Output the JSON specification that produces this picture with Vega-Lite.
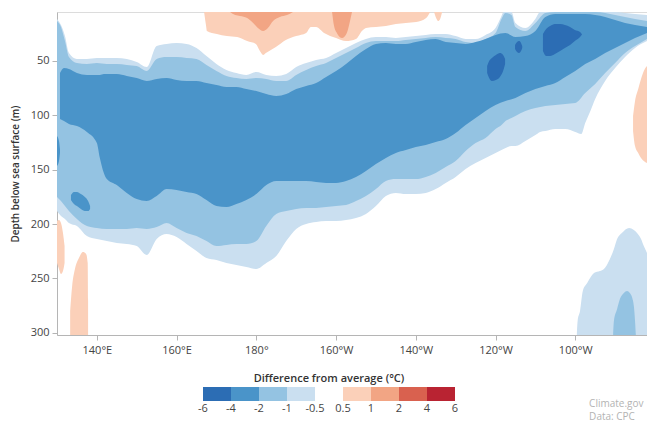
{
  "$schema": "https://vega.github.io/schema/vega-lite/v6.json",
  "padding": {"left": 9, "top": 11, "right": 0, "bottom": 0},
  "background": "white",
  "spacing": 17,
  "config": {
    "font": "Open Sans",
    "view": {"stroke": null},
    "axis": {"labelFont": "Open Sans", "titleFont": "Open Sans", "labelColor": "#444444", "titleColor": "#333333", "domainColor": "#b5b5b5", "tickColor": "#b5b5b5", "grid": false, "labelFontSize": 11, "labelFlush": false, "labelOverlap": false}
  },
  "datasets": {
    "L1": [
      {"s":"a","v":-0.75,"lon":130,"top":11.4,"bot":188.0},{"s":"a","v":-0.75,"lon":131,"top":17.0,"bot":192.6},{"s":"a","v":-0.75,"lon":132,"top":27.1,"bot":195.3},{"s":"a","v":-0.75,"lon":133,"top":42.7,"bot":199.0},{"s":"a","v":-0.75,"lon":135,"top":48.2,"bot":201.8},{"s":"a","v":-0.75,"lon":137.5,"top":48.2,"bot":211.0},{"s":"a","v":-0.75,"lon":140,"top":47.3,"bot":213.7},{"s":"a","v":-0.75,"lon":142.5,"top":47.3,"bot":215.6},{"s":"a","v":-0.75,"lon":145,"top":47.3,"bot":217.4},{"s":"a","v":-0.75,"lon":147.5,"top":48.2,"bot":218.3},{"s":"a","v":-0.75,"lon":150,"top":51.0,"bot":220.2},{"s":"a","v":-0.75,"lon":152.5,"top":55.6,"bot":228.4},{"s":"a","v":-0.75,"lon":155,"top":36.3,"bot":213.7},{"s":"a","v":-0.75,"lon":157.5,"top":34.4,"bot":209.1},{"s":"a","v":-0.75,"lon":160,"top":33.5,"bot":211.9},{"s":"a","v":-0.75,"lon":162.5,"top":34.4,"bot":218.3},{"s":"a","v":-0.75,"lon":165,"top":38.1,"bot":224.8},{"s":"a","v":-0.75,"lon":167.5,"top":45.5,"bot":231.2},{"s":"a","v":-0.75,"lon":170,"top":52.8,"bot":233.0},{"s":"a","v":-0.75,"lon":172.5,"top":58.3,"bot":235.8},{"s":"a","v":-0.75,"lon":175,"top":61.1,"bot":237.6},{"s":"a","v":-0.75,"lon":177.5,"top":62.9,"bot":239.5},{"s":"a","v":-0.75,"lon":180,"top":60.2,"bot":241.3},{"s":"a","v":-0.75,"lon":182.5,"top":62.9,"bot":235.8},{"s":"a","v":-0.75,"lon":185,"top":63.8,"bot":229.4},{"s":"a","v":-0.75,"lon":187.5,"top":62.0,"bot":215.6},{"s":"a","v":-0.75,"lon":190,"top":55.6,"bot":204.5},{"s":"a","v":-0.75,"lon":192.5,"top":51.9,"bot":199.9},{"s":"a","v":-0.75,"lon":195,"top":49.1,"bot":198.1},{"s":"a","v":-0.75,"lon":197.5,"top":47.3,"bot":197.2},{"s":"a","v":-0.75,"lon":200,"top":42.7,"bot":197.2},{"s":"a","v":-0.75,"lon":202.5,"top":38.1,"bot":196.3},{"s":"a","v":-0.75,"lon":205,"top":33.5,"bot":194.4},{"s":"a","v":-0.75,"lon":207.5,"top":29.8,"bot":190.7},{"s":"a","v":-0.75,"lon":210,"top":28.0,"bot":183.4},{"s":"a","v":-0.75,"lon":212.5,"top":28.0,"bot":174.2},{"s":"a","v":-0.75,"lon":215,"top":28.9,"bot":171.4},{"s":"a","v":-0.75,"lon":217.5,"top":28.0,"bot":172.4},{"s":"a","v":-0.75,"lon":220,"top":27.1,"bot":172.4},{"s":"a","v":-0.75,"lon":222.5,"top":26.1,"bot":171.4},{"s":"a","v":-0.75,"lon":225,"top":25.2,"bot":167.8},{"s":"a","v":-0.75,"lon":227.5,"top":25.2,"bot":162.2},{"s":"a","v":-0.75,"lon":230,"top":27.1,"bot":156.7},{"s":"a","v":-0.75,"lon":232.5,"top":29.8,"bot":149.4},{"s":"a","v":-0.75,"lon":235,"top":29.8,"bot":143.8},{"s":"a","v":-0.75,"lon":237.5,"top":26.1,"bot":139.2},{"s":"a","v":-0.75,"lon":240,"top":19.7,"bot":134.6},{"s":"a","v":-0.75,"lon":241.5,"top":8.7,"bot":131.9},{"s":"a","v":-0.75,"lon":242,"top":5,"bot":131.0},{"s":"a","v":-0.75,"lon":244,"top":5,"bot":128.2},{"s":"a","v":-0.75,"lon":245,"top":15.1,"bot":128.2},{"s":"a","v":-0.75,"lon":247.5,"top":19.7,"bot":123.6},{"s":"a","v":-0.75,"lon":250,"top":11.4,"bot":118.1},{"s":"a","v":-0.75,"lon":251.2,"top":5,"bot":115.3},{"s":"a","v":-0.75,"lon":252.5,"top":5,"bot":114.4},{"s":"a","v":-0.75,"lon":255,"top":5,"bot":112.6},{"s":"a","v":-0.75,"lon":257.5,"top":5,"bot":112.6},{"s":"a","v":-0.75,"lon":260,"top":5,"bot":115.3},{"s":"a","v":-0.75,"lon":261.5,"top":5,"bot":117.2},{"s":"a","v":-0.75,"lon":262.5,"top":5,"bot":107.1},{"s":"a","v":-0.75,"lon":263.8,"top":5,"bot":96.0},{"s":"a","v":-0.75,"lon":265,"top":5,"bot":85.0},{"s":"a","v":-0.75,"lon":267.5,"top":5,"bot":68.4},{"s":"a","v":-0.75,"lon":270,"top":5,"bot":56.5},{"s":"a","v":-0.75,"lon":272.5,"top":5.9,"bot":46.4},{"s":"a","v":-0.75,"lon":275,"top":6.8,"bot":38.1},{"s":"a","v":-0.75,"lon":278,"top":7.8,"bot":31.7},
      {"s":"b","v":-0.75,"lon":260.4,"top":302,"bot":302},{"s":"b","v":-0.75,"lon":260.6,"top":289.1,"bot":302},{"s":"b","v":-0.75,"lon":261.2,"top":279.9,"bot":302},{"s":"b","v":-0.75,"lon":261.9,"top":261.5,"bot":302},{"s":"b","v":-0.75,"lon":263.0,"top":254.2,"bot":302},{"s":"b","v":-0.75,"lon":264.7,"top":245.0,"bot":302},{"s":"b","v":-0.75,"lon":266.2,"top":243.2,"bot":302},{"s":"b","v":-0.75,"lon":267.2,"top":241.3,"bot":302},{"s":"b","v":-0.75,"lon":268.7,"top":232.1,"bot":302},{"s":"b","v":-0.75,"lon":269.7,"top":222.9,"bot":302},{"s":"b","v":-0.75,"lon":270.5,"top":213.7,"bot":302},{"s":"b","v":-0.75,"lon":271.7,"top":208.2,"bot":302},{"s":"b","v":-0.75,"lon":273.5,"top":203.6,"bot":302},{"s":"b","v":-0.75,"lon":274.7,"top":205.4,"bot":302},{"s":"b","v":-0.75,"lon":275.5,"top":208.2,"bot":302},{"s":"b","v":-0.75,"lon":276.5,"top":213.7,"bot":302},{"s":"b","v":-0.75,"lon":277.2,"top":220.2,"bot":302},{"s":"b","v":-0.75,"lon":278,"top":226.6,"bot":302}
    ],
    "L2": [
      {"s":"a","v":-1.5,"lon":130,"top":13.3,"bot":175.1},{"s":"a","v":-1.5,"lon":131,"top":18.8,"bot":178.8},{"s":"a","v":-1.5,"lon":132,"top":31.7,"bot":183.4},{"s":"a","v":-1.5,"lon":133,"top":46.4,"bot":188.0},{"s":"a","v":-1.5,"lon":135,"top":51.9,"bot":195.3},{"s":"a","v":-1.5,"lon":137.5,"top":52.8,"bot":201.8},{"s":"a","v":-1.5,"lon":140,"top":51.9,"bot":203.6},{"s":"a","v":-1.5,"lon":142.5,"top":52.8,"bot":204.5},{"s":"a","v":-1.5,"lon":145,"top":52.8,"bot":204.5},{"s":"a","v":-1.5,"lon":147.5,"top":53.7,"bot":204.5},{"s":"a","v":-1.5,"lon":150,"top":54.7,"bot":203.6},{"s":"a","v":-1.5,"lon":152.5,"top":59.3,"bot":204.5},{"s":"a","v":-1.5,"lon":155,"top":48.2,"bot":202.7},{"s":"a","v":-1.5,"lon":157.5,"top":46.4,"bot":199.0},{"s":"a","v":-1.5,"lon":160,"top":46.4,"bot":203.6},{"s":"a","v":-1.5,"lon":162.5,"top":47.3,"bot":208.2},{"s":"a","v":-1.5,"lon":165,"top":48.2,"bot":211.0},{"s":"a","v":-1.5,"lon":167.5,"top":53.7,"bot":215.6},{"s":"a","v":-1.5,"lon":170,"top":59.3,"bot":220.2},{"s":"a","v":-1.5,"lon":172.5,"top":63.8,"bot":219.2},{"s":"a","v":-1.5,"lon":175,"top":65.7,"bot":218.3},{"s":"a","v":-1.5,"lon":177.5,"top":66.6,"bot":218.3},{"s":"a","v":-1.5,"lon":180,"top":65.7,"bot":215.6},{"s":"a","v":-1.5,"lon":182.5,"top":66.6,"bot":201.8},{"s":"a","v":-1.5,"lon":185,"top":68.4,"bot":190.7},{"s":"a","v":-1.5,"lon":187.5,"top":68.4,"bot":188.0},{"s":"a","v":-1.5,"lon":190,"top":62.9,"bot":186.1},{"s":"a","v":-1.5,"lon":192.5,"top":58.3,"bot":185.2},{"s":"a","v":-1.5,"lon":195,"top":54.7,"bot":185.2},{"s":"a","v":-1.5,"lon":197.5,"top":51.9,"bot":184.3},{"s":"a","v":-1.5,"lon":200,"top":47.3,"bot":183.4},{"s":"a","v":-1.5,"lon":202.5,"top":42.7,"bot":182.5},{"s":"a","v":-1.5,"lon":205,"top":38.1,"bot":178.8},{"s":"a","v":-1.5,"lon":207.5,"top":33.5,"bot":174.2},{"s":"a","v":-1.5,"lon":210,"top":31.7,"bot":167.8},{"s":"a","v":-1.5,"lon":212.5,"top":31.7,"bot":160.4},{"s":"a","v":-1.5,"lon":215,"top":31.7,"bot":158.6},{"s":"a","v":-1.5,"lon":217.5,"top":30.7,"bot":158.6},{"s":"a","v":-1.5,"lon":220,"top":29.8,"bot":158.6},{"s":"a","v":-1.5,"lon":222.5,"top":28.9,"bot":156.7},{"s":"a","v":-1.5,"lon":225,"top":28.0,"bot":153.0},{"s":"a","v":-1.5,"lon":227.5,"top":28.9,"bot":147.5},{"s":"a","v":-1.5,"lon":230,"top":29.8,"bot":142.0},{"s":"a","v":-1.5,"lon":232.5,"top":32.6,"bot":132.8},{"s":"a","v":-1.5,"lon":235,"top":33.5,"bot":125.5},{"s":"a","v":-1.5,"lon":237.5,"top":29.8,"bot":120.9},{"s":"a","v":-1.5,"lon":240,"top":24.3,"bot":112.6},{"s":"a","v":-1.5,"lon":241.5,"top":11.4,"bot":108.9},{"s":"a","v":-1.5,"lon":242.5,"top":5.9,"bot":105.2},{"s":"a","v":-1.5,"lon":244,"top":7.8,"bot":102.5},{"s":"a","v":-1.5,"lon":245,"top":18.8,"bot":100.6},{"s":"a","v":-1.5,"lon":247.5,"top":22.5,"bot":96.0},{"s":"a","v":-1.5,"lon":250,"top":15.1,"bot":93.3},{"s":"a","v":-1.5,"lon":252.5,"top":5.9,"bot":91.4},{"s":"a","v":-1.5,"lon":255,"top":5,"bot":90.5},{"s":"a","v":-1.5,"lon":257.5,"top":5,"bot":89.6},{"s":"a","v":-1.5,"lon":260,"top":5,"bot":88.7},{"s":"a","v":-1.5,"lon":262.5,"top":5,"bot":79.5},{"s":"a","v":-1.5,"lon":265,"top":5,"bot":71.2},{"s":"a","v":-1.5,"lon":267.5,"top":5.9,"bot":61.1},{"s":"a","v":-1.5,"lon":270,"top":7.8,"bot":51.9},{"s":"a","v":-1.5,"lon":272.5,"top":9.6,"bot":42.7},{"s":"a","v":-1.5,"lon":275,"top":11.4,"bot":36.3},{"s":"a","v":-1.5,"lon":278,"top":13.3,"bot":29.8},
      {"s":"b","v":-1.5,"lon":269.5,"top":302,"bot":302},{"s":"b","v":-1.5,"lon":269.7,"top":289.1,"bot":302},{"s":"b","v":-1.5,"lon":270.5,"top":278.1,"bot":302},{"s":"b","v":-1.5,"lon":271.2,"top":268.9,"bot":302},{"s":"b","v":-1.5,"lon":272.2,"top":263.4,"bot":302},{"s":"b","v":-1.5,"lon":273,"top":261.5,"bot":302},{"s":"b","v":-1.5,"lon":273.7,"top":263.4,"bot":302},{"s":"b","v":-1.5,"lon":274.5,"top":270.7,"bot":302},{"s":"b","v":-1.5,"lon":274.7,"top":275.3,"bot":302},{"s":"b","v":-1.5,"lon":275,"top":289.1,"bot":302},{"s":"b","v":-1.5,"lon":275.2,"top":302,"bot":302}
    ],
    "L3": [
      {"s":"a","v":-3,"lon":130.75,"top":61.1,"bot":103.4},{"s":"a","v":-3,"lon":131.75,"top":56.5,"bot":105.2},{"s":"a","v":-3,"lon":133,"top":57.4,"bot":108.0},{"s":"a","v":-3,"lon":135,"top":61.1,"bot":109.8},{"s":"a","v":-3,"lon":137.5,"top":62.9,"bot":115.3},{"s":"a","v":-3,"lon":140,"top":62.9,"bot":125.5},{"s":"a","v":-3,"lon":140.75,"top":62.9,"bot":139.2},{"s":"a","v":-3,"lon":141.75,"top":62.0,"bot":153.0},{"s":"a","v":-3,"lon":142.5,"top":62.0,"bot":158.6},{"s":"a","v":-3,"lon":145,"top":62.0,"bot":164.1},{"s":"a","v":-3,"lon":147.5,"top":63.8,"bot":171.4},{"s":"a","v":-3,"lon":150,"top":65.7,"bot":177.0},{"s":"a","v":-3,"lon":152.5,"top":68.4,"bot":178.8},{"s":"a","v":-3,"lon":155,"top":66.6,"bot":174.2},{"s":"a","v":-3,"lon":157.5,"top":65.7,"bot":167.8},{"s":"a","v":-3,"lon":160,"top":67.5,"bot":168.7},{"s":"a","v":-3,"lon":162.5,"top":68.4,"bot":170.5},{"s":"a","v":-3,"lon":165,"top":68.4,"bot":172.4},{"s":"a","v":-3,"lon":167.5,"top":70.3,"bot":177.9},{"s":"a","v":-3,"lon":170,"top":72.1,"bot":183.4},{"s":"a","v":-3,"lon":172.5,"top":74.0,"bot":184.3},{"s":"a","v":-3,"lon":175,"top":74.0,"bot":181.5},{"s":"a","v":-3,"lon":177.5,"top":75.8,"bot":177.9},{"s":"a","v":-3,"lon":180,"top":77.6,"bot":172.4},{"s":"a","v":-3,"lon":182.5,"top":80.4,"bot":164.1},{"s":"a","v":-3,"lon":185,"top":82.2,"bot":160.4},{"s":"a","v":-3,"lon":187.5,"top":80.4,"bot":160.4},{"s":"a","v":-3,"lon":190,"top":75.8,"bot":160.4},{"s":"a","v":-3,"lon":192.5,"top":73.0,"bot":160.4},{"s":"a","v":-3,"lon":195,"top":70.3,"bot":161.3},{"s":"a","v":-3,"lon":197.5,"top":64.8,"bot":162.2},{"s":"a","v":-3,"lon":200,"top":59.3,"bot":162.2},{"s":"a","v":-3,"lon":202.5,"top":52.8,"bot":160.4},{"s":"a","v":-3,"lon":205,"top":45.5,"bot":156.7},{"s":"a","v":-3,"lon":207.5,"top":39.0,"bot":151.2},{"s":"a","v":-3,"lon":210,"top":34.4,"bot":144.8},{"s":"a","v":-3,"lon":212.5,"top":33.5,"bot":139.2},{"s":"a","v":-3,"lon":215,"top":34.4,"bot":134.6},{"s":"a","v":-3,"lon":217.5,"top":34.4,"bot":131.9},{"s":"a","v":-3,"lon":220,"top":32.6,"bot":129.1},{"s":"a","v":-3,"lon":222.5,"top":30.7,"bot":127.3},{"s":"a","v":-3,"lon":225,"top":29.8,"bot":124.5},{"s":"a","v":-3,"lon":227.5,"top":32.6,"bot":121.8},{"s":"a","v":-3,"lon":230,"top":33.5,"bot":116.3},{"s":"a","v":-3,"lon":232.5,"top":34.4,"bot":108.9},{"s":"a","v":-3,"lon":235,"top":32.6,"bot":102.5},{"s":"a","v":-3,"lon":237.5,"top":29.8,"bot":96.0},{"s":"a","v":-3,"lon":240,"top":26.1,"bot":90.5},{"s":"a","v":-3,"lon":242.5,"top":24.3,"bot":86.8},{"s":"a","v":-3,"lon":245,"top":28.0,"bot":84.1},{"s":"a","v":-3,"lon":247.5,"top":27.1,"bot":79.5},{"s":"a","v":-3,"lon":250,"top":22.5,"bot":75.8},{"s":"a","v":-3,"lon":252.5,"top":9.6,"bot":73.0},{"s":"a","v":-3,"lon":255,"top":6.8,"bot":70.3},{"s":"a","v":-3,"lon":257.5,"top":6.8,"bot":64.8},{"s":"a","v":-3,"lon":260,"top":6.8,"bot":59.3},{"s":"a","v":-3,"lon":262.5,"top":6.8,"bot":52.8},{"s":"a","v":-3,"lon":265,"top":7.8,"bot":48.2},{"s":"a","v":-3,"lon":267.5,"top":9.6,"bot":42.7},{"s":"a","v":-3,"lon":270,"top":12.4,"bot":38.1},{"s":"a","v":-3,"lon":272.5,"top":15.1,"bot":33.5},{"s":"a","v":-3,"lon":275,"top":17.0,"bot":28.9},{"s":"a","v":-3,"lon":278,"top":18.8,"bot":24.3},
      {"s":"s","v":-3,"lon":130,"top":119.0,"bot":146.6},{"s":"s","v":-3,"lon":130.5,"top":123.6,"bot":142.0},{"s":"s","v":-3,"lon":130.75,"top":131.0,"bot":134.6},
      {"s":"d","v":-3,"lon":133.5,"top":173.3,"bot":177.9},{"s":"d","v":-3,"lon":134.25,"top":170.5,"bot":181.5},{"s":"d","v":-3,"lon":135,"top":170.5,"bot":183.4},{"s":"d","v":-3,"lon":136,"top":172.4,"bot":186.1},{"s":"d","v":-3,"lon":137,"top":175.1,"bot":188.0},{"s":"d","v":-3,"lon":137.8,"top":178.8,"bot":188.0},{"s":"d","v":-3,"lon":138.3,"top":183.4,"bot":186.1}
    ],
    "L4": [
      {"s":"a","v":-5,"lon":251.9,"top":25.2,"bot":40.9},{"s":"a","v":-5,"lon":252.7,"top":20.6,"bot":45.5},{"s":"a","v":-5,"lon":253.7,"top":17.9,"bot":45.5},{"s":"a","v":-5,"lon":254.9,"top":16.0,"bot":43.6},{"s":"a","v":-5,"lon":256.2,"top":16.0,"bot":40.9},{"s":"a","v":-5,"lon":257.4,"top":17.0,"bot":38.1},{"s":"a","v":-5,"lon":258.7,"top":18.8,"bot":35.3},{"s":"a","v":-5,"lon":259.9,"top":21.6,"bot":31.7},{"s":"a","v":-5,"lon":261.2,"top":23.4,"bot":28.0},{"s":"a","v":-5,"lon":261.7,"top":25.7,"bot":25.7},
      {"s":"b","v":-5,"lon":237.9,"top":54.7,"bot":61.1},{"s":"b","v":-5,"lon":238.4,"top":50.1,"bot":65.7},{"s":"b","v":-5,"lon":239.1,"top":47.3,"bot":68.4},{"s":"b","v":-5,"lon":240.1,"top":44.5,"bot":67.5},{"s":"b","v":-5,"lon":241.1,"top":42.7,"bot":64.8},{"s":"b","v":-5,"lon":241.9,"top":44.5,"bot":59.3},{"s":"b","v":-5,"lon":242.4,"top":48.2,"bot":52.8},
      {"s":"c","v":-5,"lon":244.9,"top":35.3,"bot":39.0},{"s":"c","v":-5,"lon":245.4,"top":32.6,"bot":41.8},{"s":"c","v":-5,"lon":245.9,"top":31.7,"bot":42.7},{"s":"c","v":-5,"lon":246.4,"top":33.5,"bot":40.9},{"s":"c","v":-5,"lon":246.7,"top":36.3,"bot":38.1}
    ],
    "R1": [
      {"s":"a","v":0.75,"lon":166.9,"top":5,"bot":5},{"s":"a","v":0.75,"lon":167.4,"top":5,"bot":17.9},{"s":"a","v":0.75,"lon":167.6,"top":5,"bot":22.5},{"s":"a","v":0.75,"lon":170.1,"top":5,"bot":25.2},{"s":"a","v":0.75,"lon":172.6,"top":5,"bot":27.1},{"s":"a","v":0.75,"lon":175.2,"top":5,"bot":28.0},{"s":"a","v":0.75,"lon":177.7,"top":5,"bot":31.7},{"s":"a","v":0.75,"lon":179.9,"top":5,"bot":34.4},{"s":"a","v":0.75,"lon":180.9,"top":5,"bot":40.9},{"s":"a","v":0.75,"lon":181.7,"top":5,"bot":44.5},{"s":"a","v":0.75,"lon":182.4,"top":5,"bot":42.7},{"s":"a","v":0.75,"lon":184.9,"top":5,"bot":37.2},{"s":"a","v":0.75,"lon":187.4,"top":5,"bot":30.7},{"s":"a","v":0.75,"lon":190,"top":5,"bot":27.1},{"s":"a","v":0.75,"lon":192.5,"top":5,"bot":24.3},{"s":"a","v":0.75,"lon":193.7,"top":5,"bot":18.8},{"s":"a","v":0.75,"lon":195,"top":5,"bot":18.8},{"s":"a","v":0.75,"lon":197,"top":5,"bot":24.3},{"s":"a","v":0.75,"lon":200,"top":5,"bot":28.9},{"s":"a","v":0.75,"lon":202.5,"top":5,"bot":31.7},{"s":"a","v":0.75,"lon":205,"top":5,"bot":29.8},{"s":"a","v":0.75,"lon":206.5,"top":5,"bot":22.5},{"s":"a","v":0.75,"lon":207.5,"top":5,"bot":19.7},{"s":"a","v":0.75,"lon":210,"top":5,"bot":18.8},{"s":"a","v":0.75,"lon":212.5,"top":5,"bot":17.9},{"s":"a","v":0.75,"lon":215,"top":5,"bot":16.0},{"s":"a","v":0.75,"lon":217.5,"top":5,"bot":15.1},{"s":"a","v":0.75,"lon":220.1,"top":5,"bot":14.2},{"s":"a","v":0.75,"lon":222.6,"top":5,"bot":10.5},{"s":"a","v":0.75,"lon":223.6,"top":5,"bot":5},
      {"s":"b","v":0.75,"lon":224.6,"top":5,"bot":5},{"s":"b","v":0.75,"lon":225.1,"top":5,"bot":10.5},{"s":"b","v":0.75,"lon":225.6,"top":5,"bot":13.3},{"s":"b","v":0.75,"lon":226.1,"top":5,"bot":11.4},{"s":"b","v":0.75,"lon":226.6,"top":5,"bot":5},
      {"s":"c","v":0.75,"lon":130,"top":197.2,"bot":235.8},{"s":"c","v":0.75,"lon":130.5,"top":196.3,"bot":241.3},{"s":"c","v":0.75,"lon":131,"top":199.0,"bot":245.9},{"s":"c","v":0.75,"lon":131.5,"top":208.2,"bot":243.2},{"s":"c","v":0.75,"lon":131.9,"top":220.2,"bot":235.8},
      {"s":"d","v":0.75,"lon":133.3,"top":279.9,"bot":302},{"s":"d","v":0.75,"lon":133.8,"top":257.0,"bot":302},{"s":"d","v":0.75,"lon":134.5,"top":241.3,"bot":302},{"s":"d","v":0.75,"lon":135.5,"top":231.2,"bot":302},{"s":"d","v":0.75,"lon":136.5,"top":225.7,"bot":302},{"s":"d","v":0.75,"lon":137.3,"top":227.5,"bot":302},{"s":"d","v":0.75,"lon":137.7,"top":235.8,"bot":302},{"s":"d","v":0.75,"lon":137.8,"top":270.7,"bot":302},
      {"s":"e","v":0.75,"lon":274.5,"top":100.6,"bot":114.4},{"s":"e","v":0.75,"lon":275,"top":86.8,"bot":128.2},{"s":"e","v":0.75,"lon":275.8,"top":75.8,"bot":134.6},{"s":"e","v":0.75,"lon":276.5,"top":66.6,"bot":139.2},{"s":"e","v":0.75,"lon":277.2,"top":59.3,"bot":142.0},{"s":"e","v":0.75,"lon":278,"top":54.7,"bot":143.8}
    ],
    "R2": [
      {"s":"a","v":1.5,"lon":173.4,"top":5,"bot":5},{"s":"a","v":1.5,"lon":174.7,"top":5,"bot":7.8},{"s":"a","v":1.5,"lon":175.9,"top":5,"bot":8.7},{"s":"a","v":1.5,"lon":177.7,"top":5,"bot":10.5},{"s":"a","v":1.5,"lon":179.2,"top":5,"bot":15.1},{"s":"a","v":1.5,"lon":180.4,"top":5,"bot":19.7},{"s":"a","v":1.5,"lon":181.7,"top":5,"bot":22.5},{"s":"a","v":1.5,"lon":182.9,"top":5,"bot":19.7},{"s":"a","v":1.5,"lon":184.2,"top":5,"bot":13.3},{"s":"a","v":1.5,"lon":185.9,"top":5,"bot":9.6},{"s":"a","v":1.5,"lon":187.7,"top":5,"bot":7.8},{"s":"a","v":1.5,"lon":189.2,"top":5,"bot":5},
      {"s":"b","v":1.5,"lon":199,"top":5,"bot":5},{"s":"b","v":1.5,"lon":199.5,"top":5,"bot":17.9},{"s":"b","v":1.5,"lon":200.2,"top":5,"bot":24.3},{"s":"b","v":1.5,"lon":201.5,"top":5,"bot":28.9},{"s":"b","v":1.5,"lon":202.7,"top":5,"bot":24.3},{"s":"b","v":1.5,"lon":203.5,"top":5,"bot":13.3},{"s":"b","v":1.5,"lon":204,"top":5,"bot":5}
    ],
    "legend": [
      {"lo":0,"hi":1,"v":-5},{"lo":1,"hi":2,"v":-3},{"lo":2,"hi":3,"v":-1.5},{"lo":3,"hi":4,"v":-0.75},{"lo":4,"hi":5,"v":0},{"lo":5,"hi":6,"v":0.75},{"lo":6,"hi":7,"v":1.5},{"lo":7,"hi":8,"v":3},{"lo":8,"hi":9,"v":5}
    ],
    "ticks": [
      {"p":0,"lab":"-6"},{"p":1,"lab":"-4"},{"p":2,"lab":"-2"},{"p":3,"lab":"-1"},{"p":4,"lab":"-0.5"},{"p":5,"lab":"0.5"},{"p":6,"lab":"1"},{"p":7,"lab":"2"},{"p":8,"lab":"4"},{"p":9,"lab":"6"}
    ]
  },
  "vconcat": [
    {
      "width": 590,
      "height": 323,
      "view": {"stroke": "#dcdcdc"},
      "encoding": {
        "x": {"field": "lon", "type": "quantitative", "scale": {"domain": [130, 278], "nice": false, "zero": false},
              "axis": {"values": [140, 160, 180, 200, 220, 240, 260], "labelExpr": "datum.value < 180 ? datum.value + '°E' : (datum.value == 180 ? '180°' : (360 - datum.value) + '°W')", "title": null, "tickSize": 5, "labelPadding": 4}},
        "y": {"field": "top", "type": "quantitative", "stack": null, "scale": {"domain": [5, 302], "reverse": true, "nice": false, "zero": false},
              "axis": {"values": [50, 100, 150, 200, 250, 300], "title": "Depth below sea surface (m)", "titleFontSize": 10, "titleFontWeight": 600, "titlePadding": 10, "tickSize": 5, "labelPadding": 3}},
        "y2": {"field": "bot"},
        "detail": {"field": "s", "type": "nominal"},
        "color": {"field": "v", "type": "quantitative", "legend": null,
                  "scale": {"type": "threshold", "domain": [-4, -2, -1, -0.5, 0.5, 1, 2, 4], "range": ["#2c6db4", "#4a94c9", "#94c3e2", "#cadff0", "#ffffff", "#fbd0b9", "#f2a584", "#d9614f", "#b92332"]}}
      },
      "layer": [
        {"data": {"name": "L1"}, "mark": {"type": "area", "interpolate": "monotone", "clip": true}},
        {"data": {"name": "L2"}, "mark": {"type": "area", "interpolate": "monotone", "clip": true}},
        {"data": {"name": "L3"}, "mark": {"type": "area", "interpolate": "monotone", "clip": true}},
        {"data": {"name": "L4"}, "mark": {"type": "area", "interpolate": "monotone", "clip": true}},
        {"data": {"name": "R1"}, "mark": {"type": "area", "interpolate": "monotone", "clip": true}},
        {"data": {"name": "R2"}, "mark": {"type": "area", "interpolate": "monotone", "clip": true}}
      ]
    },
    {
      "width": 590,
      "height": 14,
      "layer": [
        {
          "data": {"name": "legend"},
          "mark": {"type": "rect"},
          "encoding": {
            "x": {"field": "lo", "type": "quantitative", "scale": {"domain": [-5.214, 15.857], "nice": false, "zero": false}, "axis": null},
            "x2": {"field": "hi"},
            "y": {"datum": 0, "type": "quantitative", "scale": {"domain": [0, 1], "nice": false, "zero": false}, "axis": null},
            "y2": {"datum": 1},
            "color": {"field": "v", "type": "quantitative", "legend": null,
                      "scale": {"type": "threshold", "domain": [-4, -2, -1, -0.5, 0.5, 1, 2, 4], "range": ["#2c6db4", "#4a94c9", "#94c3e2", "#cadff0", "#ffffff", "#fbd0b9", "#f2a584", "#d9614f", "#b92332"]}}
          }
        },
        {
          "data": {"name": "ticks"},
          "mark": {"type": "text", "fontSize": 11, "color": "#444444", "baseline": "middle", "align": "center"},
          "encoding": {
            "x": {"field": "p", "type": "quantitative", "axis": null},
            "y": {"datum": -0.54, "type": "quantitative", "axis": null},
            "text": {"field": "lab"}
          }
        },
        {
          "data": {"values": [{"t": "Difference from average (°C)"}]},
          "mark": {"type": "text", "fontSize": 11, "fontWeight": 600, "color": "#333333", "baseline": "middle", "align": "center"},
          "encoding": {
            "x": {"datum": 4.5, "type": "quantitative", "axis": null},
            "y": {"datum": 1.57, "type": "quantitative", "axis": null},
            "text": {"field": "t"}
          }
        },
        {
          "data": {"values": [{"t": "Climate.gov\nData: CPC"}]},
          "mark": {"type": "text", "fontSize": 10, "color": "#b3b3b3", "baseline": "middle", "align": "left", "lineBreak": "\n", "lineHeight": 13},
          "encoding": {
            "x": {"datum": 13.79, "type": "quantitative", "axis": null},
            "y": {"datum": -0.18, "type": "quantitative", "axis": null},
            "text": {"field": "t"}
          }
        }
      ]
    }
  ]
}
